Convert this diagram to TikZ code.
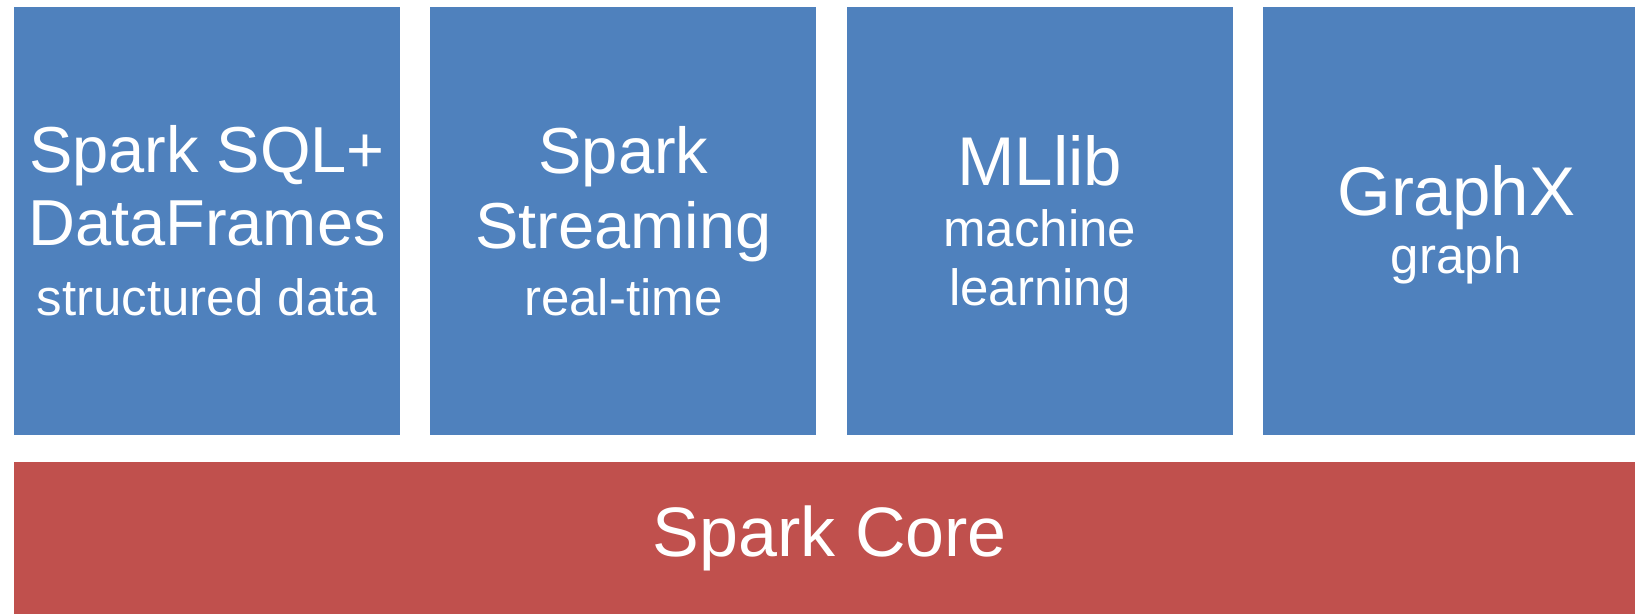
\documentclass[tikz,border=0pt]{standalone}
\usepackage{fontspec}
\setmainfont{Liberation Sans}
\usetikzlibrary{positioning}

\definecolor{layerblue}{HTML}{4F81BD}
\definecolor{corered}{HTML}{C0504D}
\newcommand{\subline}[1]{{\fontsize{51}{51}\selectfont #1}}

\begin{document}
\begin{tikzpicture}[x=1pt,y=1pt,
    layer/.style={fill=layerblue, text=white, align=center, inner sep=0pt,
                  minimum width=386pt, minimum height=428pt,
                  font=\fontsize{65}{73}\selectfont},
    core/.style={fill=corered, text=white, inner sep=0pt,
                 minimum width=1632pt, minimum height=153pt,
                 font=\fontsize{70}{70}\selectfont}]
      \useasboundingbox (0,0) rectangle (1635,613);
      \clip (0,0) rectangle (1635,613);

      % the libraries on top
      \node[layer] (sql) at (207,392) {Spark SQL+\\DataFrames\\[-3pt]\subline{structured data}};
      \node[layer, right=30pt of sql] (stream) {Spark\\[2pt]Streaming\\[-6pt]\subline{real-time}};
      \node[layer, right=30pt of stream, font=\fontsize{69}{73}\selectfont] (mllib) {\rule{0pt}{60pt}MLlib\\[-12pt]\subline{machine}\\[-14pt]\subline{learning}};
      \node[layer, right=30pt of mllib, font=\fontsize{69}{73}\selectfont] (graphx) {\rule{0pt}{58pt}GraphX\\[-15pt]\subline{graph}};

      % the engine below
      \node[core, below=27pt of sql.south west, anchor=north west] (core) {Spark Core};
\end{tikzpicture}
\end{document}
